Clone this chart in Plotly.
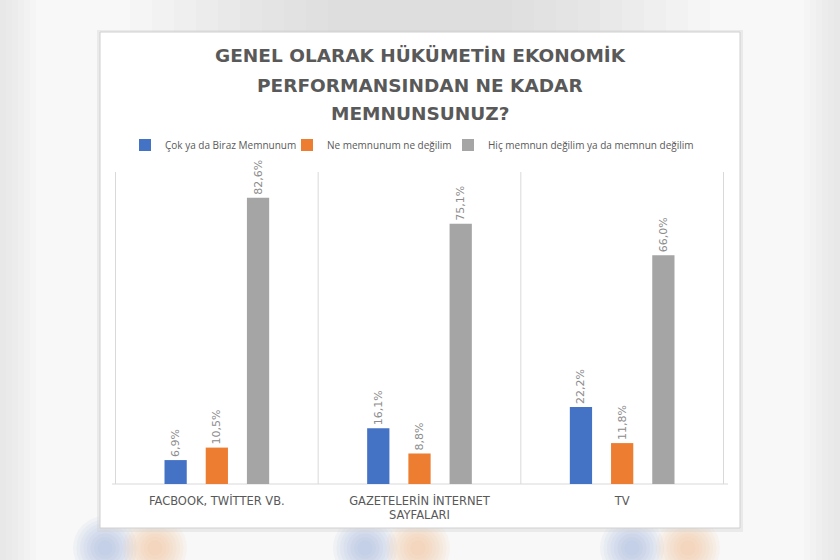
import plotly.graph_objects as go

categories = ["FACBOOK, TWİTTER VB.", "GAZETELERİN İNTERNET<br>SAYFALARI", "TV"]
series_names = [
    "Çok ya da Biraz Memnunum",
    "Ne memnunum ne değilim",
    "Hiç memnun değilim ya da memnun değilim",
]
values_memnun = [6.9, 16.1, 22.2]
values_notr = [10.5, 8.8, 11.8]
values_degil = [82.6, 75.1, 66.0]
colors = ["#4472c4", "#ed7d31", "#a5a5a5"]
title_lines = ["GENEL OLARAK HÜKÜMETİN EKONOMİK", "PERFORMANSINDAN NE KADAR", "MEMNUNSUNUZ?"]

def fmt(vals):
    return [f"{v:.1f}%".replace(".", ",") for v in vals]

L, R, T, B = 115, 116, 172, 76
W, H = 840, 560
pw, ph = W - L - R, H - T - B

def px_x(px):
    return (px - L) / pw

def px_y(py):
    return (H - B - py) / ph

legend_ids = ["legend", "legend2", "legend3"]
legend_text_x = [161, 323, 484]

fig = go.Figure()
for name, vals, col, lg in zip(series_names, [values_memnun, values_notr, values_degil], colors, legend_ids):
    fig.add_trace(go.Bar(
        x=categories, y=vals, name=name, marker=dict(color=col, line=dict(width=0)),
        text=fmt(vals), textposition="outside", textangle=-90, constraintext="none",
        textfont=dict(family="DejaVu Sans", size=11, color="#8c8c8c"),
        cliponaxis=False, legend=lg,
    ))

shapes = []
# soft grey haze above the panel (many thin layers for a blurred look)
for k in range(10):
    shapes.append(dict(type="rect", xref="paper", yref="paper",
                       x0=px_x(130 + 22 * k), x1=px_x(710 - 22 * k),
                       y0=px_y(32), y1=px_y(0), fillcolor="#b0b0b0", line=dict(width=0),
                       layer="below", opacity=0.045))
# soft side edges
for k in range(6):
    shapes.append(dict(type="rect", xref="paper", yref="paper", x0=px_x(0), x1=px_x(6 + 6 * k),
                       y0=px_y(560), y1=px_y(0), fillcolor="#c8c8c8", line=dict(width=0),
                       layer="below", opacity=0.06))
    shapes.append(dict(type="rect", xref="paper", yref="paper", x0=px_x(834 - 6 * k), x1=px_x(840),
                       y0=px_y(560), y1=px_y(0), fillcolor="#c8c8c8", line=dict(width=0),
                       layer="below", opacity=0.06))
# blurred coloured spots below the panel
for cx, col in [(105, "#9fb4e3"), (155, "#f1b78f"), (365, "#9fb4e3"), (418, "#f1b78f"),
                (632, "#9fb4e3"), (688, "#f1b78f")]:
    for k in range(8):
        r = 32 - 3.5 * k
        shapes.append(dict(type="circle", xref="paper", yref="paper", x0=px_x(cx - r), x1=px_x(cx + r),
                           y0=px_y(548 + r), y1=px_y(548 - r), fillcolor=col, line=dict(width=0),
                           layer="below", opacity=0.09))
# panel shadow + panel
shapes.append(dict(type="rect", xref="paper", yref="paper", x0=px_x(97), x1=px_x(743),
                   y0=px_y(532), y1=px_y(30), fillcolor="#d0d0d0", line=dict(width=0),
                   layer="below", opacity=0.35))
shapes.append(dict(type="rect", xref="paper", yref="paper", x0=px_x(100), x1=px_x(740),
                   y0=px_y(528), y1=px_y(32), fillcolor="white", line=dict(color="#d0d0d0", width=1),
                   layer="below"))
for xb in [-0.5, 0.5, 1.5, 2.5]:
    shapes.append(dict(type="line", xref="x", yref="paper", x0=xb, x1=xb, y0=0, y1=1,
                       line=dict(color="#d9d9d9", width=1), layer="below"))
shapes.append(dict(type="line", xref="paper", yref="paper", x0=px_x(112), x1=px_x(728),
                   y0=0, y1=0, line=dict(color="#d9d9d9", width=1), layer="below"))

annotations = []
for line, py in zip(title_lines, [55, 85, 113]):
    annotations.append(dict(text=line, xref="paper", yref="paper", x=px_x(420), y=px_y(py),
                            xanchor="center", yanchor="middle", showarrow=False,
                            font=dict(family="DejaVu Sans", size=18.5, color="#595959", weight="bold")))

legend_common = dict(orientation="h", xanchor="left", yanchor="middle", y=px_y(145),
                     font=dict(family="Open Sans", size=10, color="#595959"),
                     bgcolor="rgba(0,0,0,0)", itemwidth=30)
legends = {}
for lg, tx in zip(legend_ids, legend_text_x):
    legends[lg] = dict(legend_common, x=px_x(tx - 36))

fig.update_layout(
    width=W, height=H,
    margin=dict(l=L, r=R, t=T, b=B),
    paper_bgcolor="#f8f8f8",
    plot_bgcolor="white",
    barmode="group",
    bargap=0.39,
    bargroupgap=0.46,
    shapes=shapes,
    annotations=annotations,
    showlegend=True,
    xaxis=dict(showline=False, showgrid=False, zeroline=False, ticks="", ticklabelstandoff=8,
               tickfont=dict(family="DejaVu Sans", size=11.5, color="#595959")),
    yaxis=dict(range=[0, 90], visible=False, showgrid=False, zeroline=False),
    **legends,
)

fig.write_html("out.html")
